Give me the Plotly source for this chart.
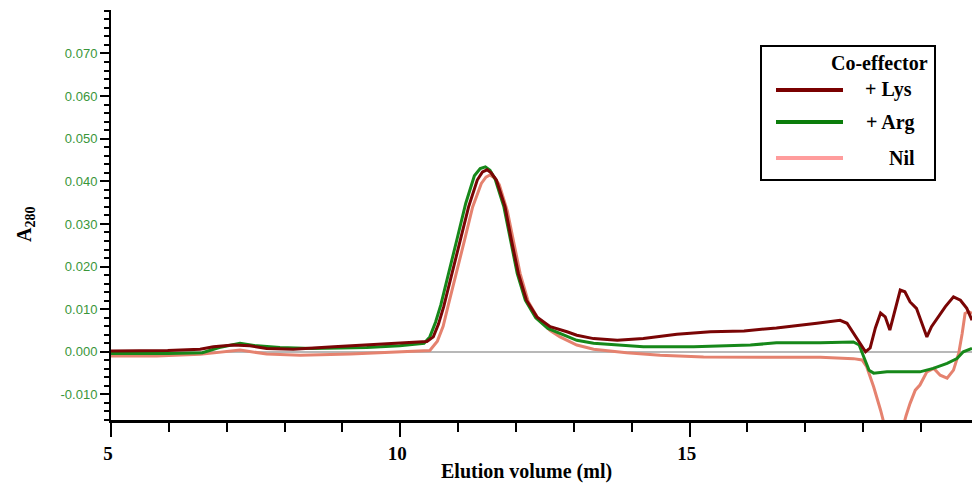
import plotly.graph_objects as go

# Elution volume (ml) and A280 readings for each co-effector condition
lys_ml = [5.0, 5.98, 6.54, 6.77, 7.11, 7.40, 7.69, 8.15, 8.85, 9.42, 9.99, 10.46, 10.57, 10.66,
          10.75, 10.89, 11.04, 11.18, 11.33, 11.42, 11.50, 11.57, 11.66, 11.81, 11.92, 12.04,
          12.18, 12.36, 12.59, 12.76, 12.88, 13.05, 13.34, 13.75, 14.20, 14.78, 15.36, 15.94,
          16.50, 17.20, 17.60, 17.72, 17.83, 17.95, 18.04, 18.12, 18.21, 18.30, 18.38, 18.46,
          18.55, 18.64, 18.72, 18.81, 18.92, 19.01, 19.10, 19.18, 19.30, 19.42, 19.56, 19.68,
          19.79, 19.88]
lys_a280 = [0.0002, 0.0003, 0.0006, 0.0012, 0.0016, 0.0014, 0.0008, 0.0006, 0.0012, 0.0016,
            0.0019, 0.0024, 0.0035, 0.0065, 0.0106, 0.0184, 0.0262, 0.0340, 0.0403, 0.0422,
            0.0427, 0.0420, 0.0403, 0.0340, 0.0262, 0.0184, 0.0121, 0.0082, 0.0059, 0.0053,
            0.0047, 0.0039, 0.0031, 0.0027, 0.0031, 0.0041, 0.0047, 0.0049, 0.0056, 0.0067,
            0.0074, 0.0067, 0.0044, 0.0016, 0.0000, 0.0009, 0.0056, 0.0091, 0.0082, 0.0051,
            0.0098, 0.0145, 0.0141, 0.0117, 0.0102, 0.0067, 0.0035, 0.0059, 0.0082, 0.0106,
            0.0129, 0.0121, 0.0102, 0.0074]

arg_ml = [5.0, 5.98, 6.58, 6.87, 7.23, 7.47, 7.92, 8.47, 8.97, 9.42, 9.99, 10.41, 10.51, 10.61,
          10.70, 10.84, 10.99, 11.13, 11.28, 11.38, 11.47, 11.55, 11.64, 11.79, 11.90, 12.02,
          12.16, 12.34, 12.55, 12.76, 13.05, 13.34, 13.63, 14.20, 15.07, 16.05, 16.50, 17.26,
          17.83, 17.93, 18.01, 18.10, 18.18, 18.41, 18.75, 18.98, 19.21, 19.45, 19.62, 19.73,
          19.88]
arg_a280 = [-0.0004, -0.0004, -0.0002, 0.0010, 0.0020, 0.0015, 0.0010, 0.0008, 0.0009, 0.0010,
            0.0014, 0.0020, 0.0035, 0.0070, 0.0110, 0.0190, 0.0270, 0.0348, 0.0413, 0.0430,
            0.0434, 0.0426, 0.0405, 0.0340, 0.0262, 0.0184, 0.0121, 0.0080, 0.0055, 0.0043,
            0.0027, 0.0020, 0.0017, 0.0012, 0.0012, 0.0016, 0.0021, 0.0021, 0.0023, 0.0016,
            -0.0012, -0.0043, -0.0050, -0.0047, -0.0047, -0.0047, -0.0039, -0.0027, -0.0016,
            0.0000, 0.0008]

nil_ml = [5.0, 5.79, 6.54, 7.00, 7.23, 7.69, 8.27, 9.14, 9.99, 10.51, 10.64, 10.74, 10.83,
          10.96, 11.11, 11.25, 11.40, 11.48, 11.55, 11.63, 11.71, 11.85, 11.95, 12.07, 12.21,
          12.39, 12.59, 12.76, 13.05, 13.34, 13.91, 14.49, 15.24, 16.21, 17.26, 17.83, 17.98,
          18.06, 18.18, 18.30, 18.42, 18.54, 18.64, 18.74, 18.81, 18.90, 18.98, 19.10, 19.22,
          19.33, 19.45, 19.56, 19.65, 19.71, 19.76, 19.82, 19.88]
nil_a280 = [-0.0010, -0.0010, -0.0006, 0.0000, 0.0004, -0.0005, -0.0008, -0.0005, 0.0000,
            0.0003, 0.0025, 0.0060, 0.0110, 0.0184, 0.0262, 0.0340, 0.0395, 0.0410, 0.0415,
            0.0408, 0.0392, 0.0330, 0.0262, 0.0184, 0.0118, 0.0076, 0.0050, 0.0035, 0.0016,
            0.0006, -0.0002, -0.0008, -0.0012, -0.0012, -0.0013, -0.0016, -0.0019, -0.0035,
            -0.0082, -0.0137, -0.0200, -0.0230, -0.0200, -0.0150, -0.0121, -0.0090, -0.0078,
            -0.0047, -0.0039, -0.0055, -0.0062, -0.0043, -0.0004, 0.0043, 0.0090, 0.0094,
            0.0090]

series_names = ["+ Lys", "+ Arg", "Nil"]
y_tick_values = [-0.01, 0.0, 0.01, 0.02, 0.03, 0.04, 0.05, 0.06, 0.07]
y_tick_labels = ["-0.010", "0.000", "0.010", "0.020", "0.030", "0.040", "0.050", "0.060", "0.070"]
x_tick_values = [5, 10, 15]
x_tick_labels = ["5", "10", "15"]

LYS_COLOR = "#7a0505"
ARG_COLOR = "#16881a"
NIL_COLOR = "#e5826f"
SWATCH = ["#7a0000", "#0b7d0b", "#ff9c9c"]
SERIF = "Liberation Serif"
SANS = "Liberation Sans"

W, H = 972, 484
ML, MR, MT, MB = 111, 0, 10, 64


def px_x(px):
    return (px - ML) / (W - ML - MR)


def px_y(py):
    return (H - MB - py) / (H - MT - MB)


fig = go.Figure()
for name, xs, ys, col in [
    ("Nil", nil_ml, nil_a280, NIL_COLOR),
    ("+ Arg", arg_ml, arg_a280, ARG_COLOR),
    ("+ Lys", lys_ml, lys_a280, LYS_COLOR),
]:
    fig.add_trace(go.Scatter(x=xs, y=ys, mode="lines", name=name,
                             line=dict(color=col, width=3), showlegend=False))

fig.update_layout(
    width=W, height=H,
    margin=dict(l=ML, r=MR, t=MT, b=MB),
    paper_bgcolor="white", plot_bgcolor="white",
    xaxis=dict(
        range=[5, 19.88], showgrid=False, zeroline=False,
        showline=True, linecolor="black", linewidth=3,
        tickmode="array", tickvals=x_tick_values,
        ticktext=[f"<b>{t}</b>" for t in x_tick_labels],
        ticks="outside", ticklen=14, tickwidth=2, tickcolor="black",
        ticklabelshift=-3,
        tickfont=dict(family=SERIF, size=19, color="black"),
        minor=dict(tick0=5, dtick=1, ticks="outside", ticklen=9, tickwidth=2,
                   tickcolor="black", showgrid=False),
    ),
    yaxis=dict(
        range=[-0.016, 0.0802], showgrid=False,
        zeroline=True, zerolinecolor="#b8b8b8", zerolinewidth=1.5,
        showline=True, linecolor="black", linewidth=2,
        tickmode="array", tickvals=y_tick_values, ticktext=y_tick_labels,
        ticks="outside", ticklen=9, tickwidth=2, tickcolor="black",
        tickfont=dict(family=SANS, size=13, color="#399639"),
        minor=dict(tick0=0, dtick=0.002, ticks="outside", ticklen=5, tickwidth=2,
                   tickcolor="black", showgrid=False),
    ),
)

annotations = [
    dict(text="<b>Elution volume (ml)</b>", x=px_x(526), y=px_y(471),
         font=dict(family=SERIF, size=20, color="black")),
    dict(text="<b>A<sub>280</sub></b>", x=px_x(25), y=px_y(225), textangle=-90,
         font=dict(family=SERIF, size=20, color="black")),
    dict(text="<b>Co-effector</b>", x=px_x(930), y=px_y(63), xanchor="right",
         font=dict(family=SERIF, size=20, color="black")),
]
shapes = [
    dict(type="rect", xref="paper", yref="paper",
         x0=px_x(761), x1=px_x(935), y0=px_y(180), y1=px_y(46),
         line=dict(color="black", width=2), fillcolor="white", layer="above"),
]
legend_rows = [90, 122, 158]
label_right = [914, 917, 917]
for name, color, row, rx in zip(series_names, SWATCH, legend_rows, label_right):
    shapes.append(dict(type="line", xref="paper", yref="paper",
                       x0=px_x(776), x1=px_x(843), y0=px_y(row), y1=px_y(row),
                       line=dict(color=color, width=4), layer="above"))
    annotations.append(dict(text=f"<b>{name}</b>", x=px_x(rx), y=px_y(row), xanchor="right",
                            font=dict(family=SERIF, size=20, color="black")))

for a in annotations:
    a.update(xref="paper", yref="paper", showarrow=False)
    a.setdefault("xanchor", "center")
    a.setdefault("yanchor", "middle")

fig.update_layout(annotations=annotations, shapes=shapes)
fig.write_html("out.html")
